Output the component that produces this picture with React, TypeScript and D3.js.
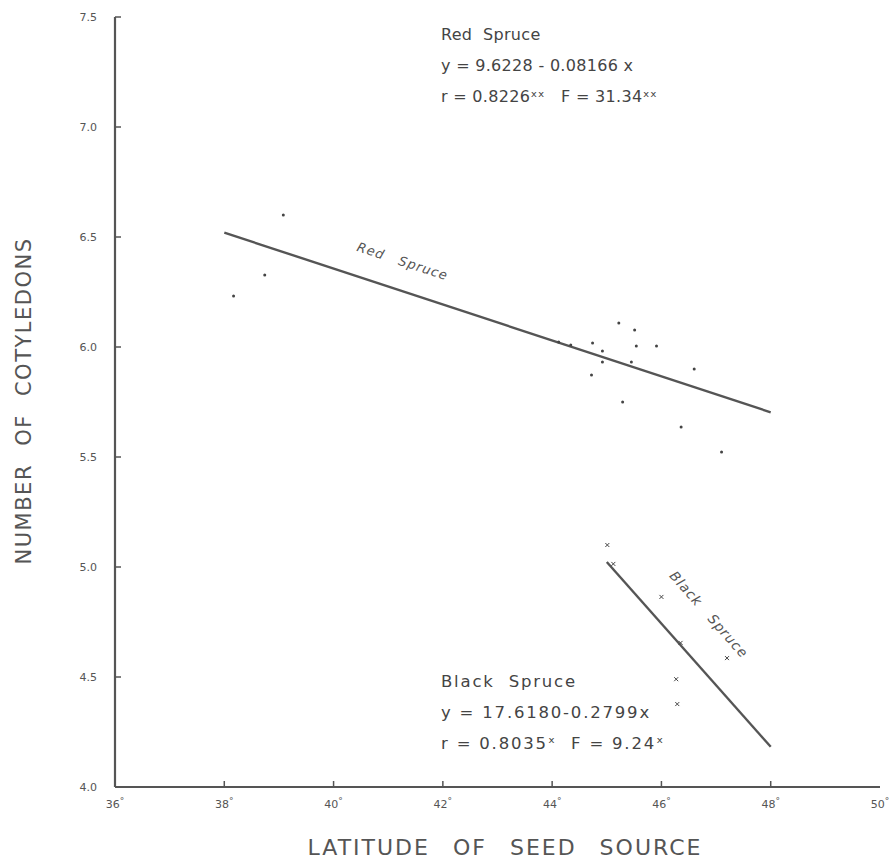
import React, { useEffect, useRef } from 'react';
import * as d3 from 'd3';

// values
const redLat = [38.17, 38.74, 39.08, 44.12, 44.34, 44.72, 44.74, 44.92, 44.92, 45.22, 45.29, 45.45, 45.51, 45.54, 45.91, 46.36, 46.6, 47.1];
const redCot = [6.232, 6.327, 6.6, 6.023, 6.009, 5.873, 6.018, 5.982, 5.932, 6.109, 5.75, 5.932, 6.077, 6.005, 6.005, 5.636, 5.9, 5.523];
const blackLat = [45.01, 45.12, 46.0, 46.35, 47.2, 46.27, 46.29];
const blackCot = [5.1, 5.014, 4.864, 4.655, 4.586, 4.49, 4.377];
const xTicks = [36, 38, 40, 42, 44, 46, 48, 50];
const yTicks = [4.0, 4.5, 5.0, 5.5, 6.0, 6.5, 7.0, 7.5];
const redFit = { a: 9.6228, b: -0.08166, from: 38, to: 48 };
const blackFit = { a: 17.618, b: -0.2799, from: 45, to: 48 };
const redStats = ['Red  Spruce', 'y = 9.6228 - 0.08166 x', 'r = 0.8226\u02e3\u02e3   F = 31.34\u02e3\u02e3'];
const blackStats = ['Black  Spruce', 'y = 17.6180-0.2799x', 'r = 0.8035\u02e3  F = 9.24\u02e3'];

const ink = '#555';
const font = '"DejaVu Sans", sans-serif';

export default function App() {
  const ref = useRef<SVGSVGElement>(null);

  useEffect(() => {
    const svg = d3.select(ref.current);
    svg.selectAll('*').remove();

    const x = d3.scaleLinear().domain([36, 50]).range([115, 880]);
    const y = d3.scaleLinear().domain([4, 7.5]).range([787, 17]);

    const g = svg.append('g');

    // axes
    g.append('line').attr('x1', x(36)).attr('x2', 880).attr('y1', y(4)).attr('y2', y(4))
      .attr('stroke', ink).attr('stroke-width', 2.2);
    g.append('line').attr('x1', x(36)).attr('x2', x(36)).attr('y1', y(4)).attr('y2', y(7.5))
      .attr('stroke', ink).attr('stroke-width', 2.2);

    g.selectAll('.xt').data(xTicks.slice(1, -1)).enter().append('line')
      .attr('x1', d => x(d)).attr('x2', d => x(d)).attr('y1', y(4)).attr('y2', y(4) - 6)
      .attr('stroke', ink).attr('stroke-width', 1.5);
    g.selectAll('.yt').data(yTicks.slice(1)).enter().append('line')
      .attr('x1', x(36)).attr('x2', x(36) + 6).attr('y1', d => y(d)).attr('y2', d => y(d))
      .attr('stroke', ink).attr('stroke-width', 1.5);

    const xl = g.selectAll('.xl').data(xTicks).enter().append('text')
      .attr('x', d => x(d)).attr('y', y(4) + 21)
      .attr('text-anchor', 'middle').attr('font-family', font).attr('font-size', 11).attr('fill', ink);
    xl.append('tspan').text(d => String(d));
    xl.append('tspan').text('°').attr('dy', -4).attr('font-size', 9);

    g.selectAll('.yl').data(yTicks).enter().append('text')
      .attr('x', x(36) - 18).attr('y', d => y(d) + 4)
      .attr('text-anchor', 'end').attr('font-family', font).attr('font-size', 11).attr('fill', ink)
      .text(d => d.toFixed(1));

    // fitted lines
    [redFit, blackFit].forEach(f => {
      g.append('line')
        .attr('x1', x(f.from)).attr('y1', y(f.a + f.b * f.from))
        .attr('x2', x(f.to)).attr('y2', y(f.a + f.b * f.to))
        .attr('stroke', ink).attr('stroke-width', 2.4);
    });

    // red spruce dots
    g.selectAll('.rd').data(redLat).enter().append('circle')
      .attr('cx', d => x(d)).attr('cy', (d, i) => y(redCot[i])).attr('r', 1.5).attr('fill', '#444');

    // black spruce crosses
    const bx = g.selectAll('.bx').data(blackLat).enter().append('g')
      .attr('transform', (d, i) => `translate(${x(d)},${y(blackCot[i])})`);
    bx.append('path').attr('d', 'M-2,-2L2,2M2,-2L-2,2').attr('stroke', '#444').attr('stroke-width', 1);

    // labels along lines
    const redAng = Math.atan2(y(redFit.a + redFit.b * 48) - y(redFit.a + redFit.b * 38), x(48) - x(38)) * 180 / Math.PI;
    const rl = 41.1;
    g.append('text')
      .attr('transform', `translate(${x(rl)},${y(redFit.a + redFit.b * rl)}) rotate(${redAng}) translate(0,-24)`)
      .attr('text-anchor', 'middle').attr('font-family', font).attr('font-size', 13).attr('font-style', 'italic')
      .attr('letter-spacing', 1).attr('fill', ink).attr('xml:space', 'preserve').text('Red   Spruce');

    const blAng = Math.atan2(y(blackFit.a + blackFit.b * 48) - y(blackFit.a + blackFit.b * 45), x(48) - x(45)) * 180 / Math.PI;
    const bl = 46.0;
    g.append('text')
      .attr('transform', `translate(${x(bl) + 44},${y(blackFit.a + blackFit.b * bl) - 6}) rotate(${blAng})`)
      .attr('text-anchor', 'middle').attr('font-family', font).attr('font-size', 13.5).attr('font-style', 'italic')
      .attr('letter-spacing', 1).attr('fill', ink).attr('xml:space', 'preserve').text('Black   Spruce');

    // statistics
    const stats = (lines: string[], x0: number, y0: number, size: number, ls: number) => {
      lines.forEach((s, i) => {
        g.append('text').attr('x', x0).attr('y', y0 + i * 31)
          .attr('font-family', font).attr('font-size', size).attr('fill', '#444')
          .attr('letter-spacing', ls).attr('xml:space', 'preserve').text(s);
      });
    };
    stats(redStats, 441, 40, 16, 0.3);
    stats(blackStats, 441, 687, 16.5, 1.8);

    // axis titles
    g.append('text').attr('x', 505).attr('y', 855).attr('text-anchor', 'middle')
      .attr('font-family', font).attr('font-size', 22).attr('fill', ink).attr('letter-spacing', 2)
      .attr('word-spacing', 14).text('LATITUDE OF SEED SOURCE');
    g.append('text').attr('transform', 'translate(31,401) rotate(-90)').attr('text-anchor', 'middle')
      .attr('font-family', font).attr('font-size', 21).attr('fill', ink).attr('letter-spacing', 1.5)
      .attr('word-spacing', 10).text('NUMBER OF COTYLEDONS');
  }, []);

  return (
    <svg ref={ref} width={892} height={865} style={{ position: 'absolute', left: 0, top: 0, background: '#fff' }} />
  );
}
